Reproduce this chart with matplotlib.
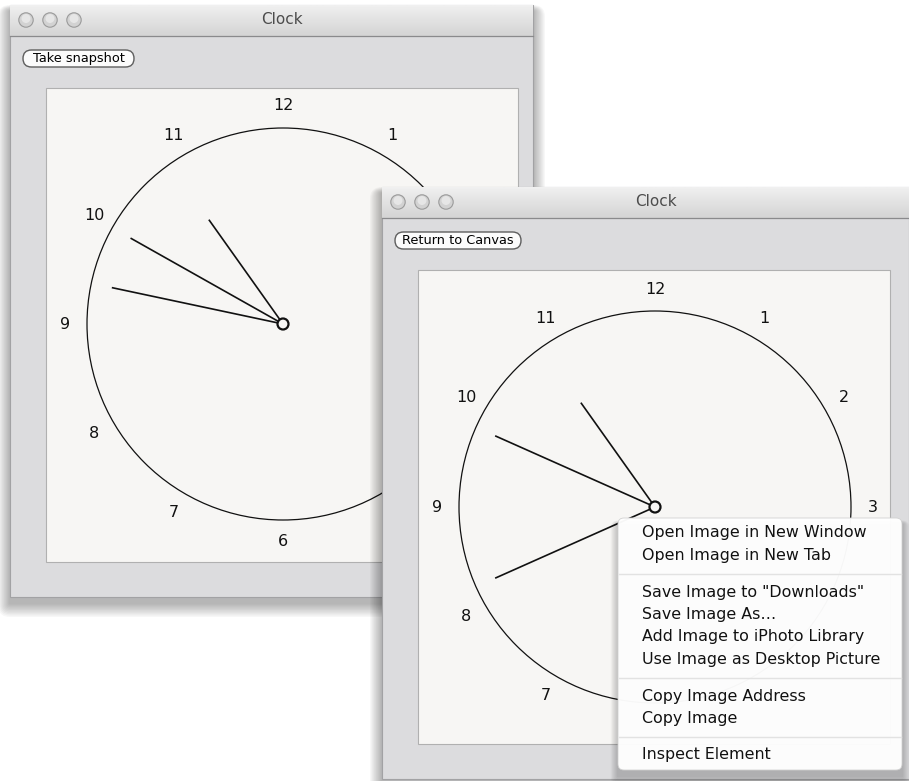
import matplotlib.pyplot as plt
import numpy as np
from matplotlib.patches import FancyBboxPatch, Rectangle, Circle

plt.rcParams['font.family'] = ['DejaVu Sans']

# clock times shown in the two windows (hours, minutes, seconds)
clock_hours = [10.82, 10.82]
clock_minutes = [49.9, 49.0]
clock_seconds = [47, 41]

# numerals visible on each clock face (others are hidden behind windows/menu)
numerals_back = [12, 1, 6, 7, 8, 9, 10, 11]
numerals_front = [12, 1, 2, 3, 7, 8, 9, 10, 11]

button_labels = ['Take snapshot', 'Return to Canvas']
window_title = 'Clock'

menu_groups = [
    ['Open Image in New Window', 'Open Image in New Tab'],
    ['Save Image to "Downloads"', 'Save Image As\u2026',
     'Add Image to iPhoto Library', 'Use Image as Desktop Picture'],
    ['Copy Image Address', 'Copy Image'],
    ['Inspect Element'],
]

fig = plt.figure(figsize=(9.09, 7.81), dpi=100)
ax = fig.add_axes([0, 0, 1, 1])
ax.set_xlim(0, 909)
ax.set_ylim(781, 0)
ax.axis('off')
fig.patch.set_facecolor('white')


def shadow(x0, y0, w, h, z, spread=20, alpha=0.03):
    for i in range(spread, 0, -2):
        ax.add_patch(FancyBboxPatch((x0 - i * 0.6, y0 + 6 - i * 0.3), w + i * 1.2, h + i * 1.0,
                                    boxstyle='round,pad=0,rounding_size=%g' % (i * 0.6),
                                    facecolor='black', alpha=alpha, lw=0, zorder=z))


def window(x0, y0, w, h, btn, btn_w, z):
    shadow(x0, y0, w, h, z)
    ax.add_patch(Rectangle((x0, y0), w, h, facecolor='#dcdcde', edgecolor='#a2a2a4',
                           lw=0.8, zorder=z + 0.1))
    # title bar gradient
    grad = np.linspace(0.94, 0.83, 50).reshape(-1, 1)
    ax.imshow(grad, cmap='gray', vmin=0, vmax=1, aspect='auto',
              extent=(x0, x0 + w, y0 + 31, y0), zorder=z + 0.2)
    ax.plot([x0, x0 + w], [y0 + 31, y0 + 31], color='#8a8a8c', lw=0.9, zorder=z + 0.3)
    for k in range(3):
        ax.add_patch(Circle((x0 + 16 + 24 * k, y0 + 15), 7.2, facecolor='#d2d2d2',
                            edgecolor='#9a9a9a', lw=0.8, zorder=z + 0.3))
        ax.add_patch(Circle((x0 + 16 + 24 * k, y0 + 13.5), 4.5, facecolor='#e6e6e6',
                            lw=0, zorder=z + 0.35))
    ax.text(x0 + w / 2 + 10, y0 + 15, window_title, ha='center', va='center',
            fontsize=11, color='#4c4c4c', zorder=z + 0.4)
    # button
    ax.add_patch(FancyBboxPatch((x0 + 13, y0 + 45), btn_w, 17,
                                boxstyle='round,pad=0,rounding_size=8.5',
                                facecolor='#fbfbfb', edgecolor='#5e5e5e', lw=1.0,
                                zorder=z + 0.3))
    ax.text(x0 + 13 + btn_w / 2, y0 + 53.5, btn, ha='center', va='center',
            fontsize=9.3, color='#000000', fontweight='medium', zorder=z + 0.4)


def clock(cx, cy, nums, hours, minutes, seconds, z):
    ax.add_patch(Circle((cx, cy), 196, fill=False, edgecolor='#111111', lw=0.9, zorder=z))
    for n in nums:
        a = np.radians(n * 30)
        ax.text(cx + 218 * np.sin(a), cy - 218 * np.cos(a), str(n), ha='center',
                va='center', fontsize=11.5, color='#111111', zorder=z)
    for ang, ln in [(hours * 30, 128), (minutes * 6, 175), (seconds * 6, 175)]:
        a = np.radians(ang)
        ax.plot([cx, cx + ln * np.sin(a)], [cy, cy - ln * np.cos(a)], color='#111111',
                lw=1.2, solid_capstyle='butt', zorder=z)
    ax.add_patch(Circle((cx, cy), 5.5, facecolor='#f7f6f4', edgecolor='#111111',
                        lw=1.6, zorder=z + 0.1))


# back window
window(10, 5, 523, 592, button_labels[0], 111, 1)
ax.add_patch(Rectangle((46, 88), 472, 474, facecolor='#f7f6f4', edgecolor='#b0b0b0',
                       lw=0.8, zorder=1.5))
clock(283, 324, numerals_back, clock_hours[0], clock_minutes[0], clock_seconds[0], 1.6)

# front window
window(382, 187, 527, 592, button_labels[1], 126, 3)
ax.add_patch(Rectangle((418, 270), 472, 474, facecolor='#f7f6f4', edgecolor='#b0b0b0',
                       lw=0.8, zorder=3.5))
clock(655, 507, numerals_front, clock_hours[1], clock_minutes[1], clock_seconds[1], 3.6)

# context menu
shadow(618, 518, 284, 252, 5, spread=12, alpha=0.035)
ax.add_patch(FancyBboxPatch((618, 518), 284, 252, boxstyle='round,pad=0,rounding_size=6',
                            facecolor='white', edgecolor='#d0d0d0', lw=0.6, alpha=0.97,
                            zorder=5.2))
y = 533
for gi, group in enumerate(menu_groups):
    for item in group:
        ax.text(642, y, item, ha='left', va='center', fontsize=11.4, color='#111111',
                zorder=5.4)
        y += 22.5
    if gi < len(menu_groups) - 1:
        ax.plot([619, 901], [y - 4, y - 4], color='#e2e2e2', lw=1.0, zorder=5.3)
        y += 14

fig.savefig('out.png', dpi=100, facecolor='white')
